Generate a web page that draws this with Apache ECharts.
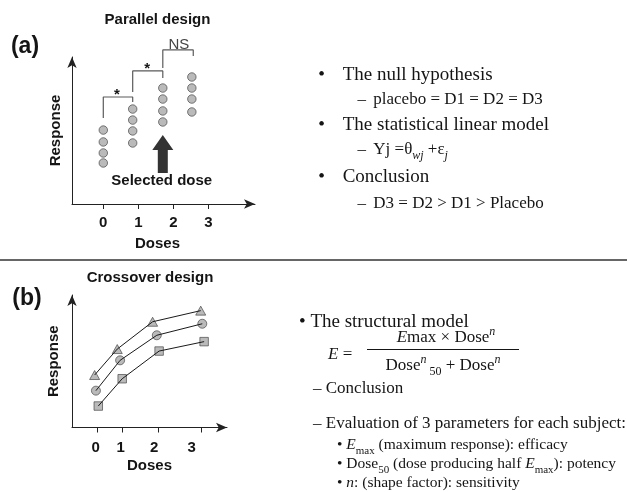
<!DOCTYPE html>
<html><head><meta charset="utf-8">
<script src="https://cdn.jsdelivr.net/npm/echarts@6/dist/echarts.min.js"></script>
<style>html,body{margin:0;padding:0;background:#fff}#c{width:627px;height:492px}</style>
</head><body><div id="c"></div>
<script>
// ---------- Panel (a): parallel design ----------
const doseTicksA = [0, 1, 2, 3];
const groupXA = [0, 0.84, 1.7, 2.53];
const respD0 = [5.03, 4.22, 3.47, 2.79];
const respD1 = [6.46, 5.71, 4.97, 4.15];
const respD2 = [7.89, 7.14, 6.33, 5.58];
const respD3 = [8.64, 7.89, 7.14, 6.26];
const bracket1X = [0, 0, 0.84, 0.84];
const bracket1Y = [5.85, 7.28, 7.28, 6.94];
const bracket2X = [0.84, 0.84, 1.7, 1.7];
const bracket2Y = [7.62, 9.05, 9.05, 8.57];
const bracket3X = [1.7, 1.7, 2.57, 2.57];
const bracket3Y = [9.25, 10.48, 10.48, 10.07];
const sigLabels = ['*', '*', 'NS'];
const sigX = [0.39, 1.25, 2.16];
const sigY = [7.45, 9.22, 10.85];
const selectedX = [1.7];
const selectedY = [3.4];
const selectedLabel = 'Selected dose';
const selectedLabelXY = [1.67, 1.56];

// ---------- Panel (b): crossover design ----------
const doseTicksB = [0, 0.95, 2.33, 4.0];
const doseLabelPosB = [-0.07, 0.89, 2.18, 3.62];
const doseLabelsB = ['0', '1', '2', '3'];
const triX = [-0.11, 0.76, 2.12, 3.97];
const triY = [3.96, 5.92, 7.98, 8.82];
const cirX = [-0.06, 0.87, 2.28, 4.03];
const cirY = [2.78, 5.07, 6.96, 7.83];
const sqX = [0.03, 0.95, 2.37, 4.1];
const sqY = [1.62, 3.68, 5.77, 6.48];

const SANS = '"Liberation Sans", Arial, Helvetica, sans-serif';
const SERIF = '"Liberation Serif", "Times New Roman", serif';
const INK = '#151515';

const zip = (xs, ys) => xs.map((x, i) => [x, ys[i]]);
const markerStyle = { color: '#a9a9a9', borderColor: '#3a3a3a', borderWidth: 0.8 };
const bold15 = { fontFamily: SANS, fontWeight: 'bold', fontSize: 15, color: INK };

function richSet(base) {
  const s = Math.round(base * 0.68);
  const lh = base + 7;
  return {
    n: { fontFamily: SERIF, fontSize: base, lineHeight: lh, fill: INK },
    i: { fontFamily: SERIF, fontSize: base, fontStyle: 'italic', lineHeight: lh, fill: INK },
    sub: { fontFamily: SERIF, fontSize: s, fontStyle: 'italic', verticalAlign: 'bottom', lineHeight: s, fill: INK },
    subn: { fontFamily: SERIF, fontSize: s, verticalAlign: 'bottom', lineHeight: s, fill: INK },
    sup: { fontFamily: SERIF, fontSize: s, fontStyle: 'italic', verticalAlign: 'top', lineHeight: s, fill: INK }
  };
}
function T(x, y, text, size, align) {
  return {
    type: 'text', x: x, y: y, silent: true,
    style: {
      text: text, fontFamily: SERIF, fontSize: size, lineHeight: size + 7, fill: INK,
      align: align || 'left', verticalAlign: 'middle', rich: richSet(size)
    }
  };
}
function S(x, y, text, size, weight, align) {
  return {
    type: 'text', x: x, y: y, silent: true,
    style: { text: text, fontFamily: SANS, fontSize: size, fontWeight: weight || 'bold', fill: INK,
      align: align || 'center', verticalAlign: 'middle' }
  };
}

const textA = [
  ['•', 'The null hypothesis', 75, 19, 321.7, 342.7],
  ['–', 'placebo = D1 = D2 = D3', 100, 17, 361.7, 373.3],
  ['•', 'The statistical linear model', 125, 19, 321.7, 342.7],
  ['–', 'Yj =θ{sub|wj} +ε{sub|j}', 150, 17, 361.7, 373.3],
  ['•', 'Conclusion', 176.7, 19, 321.7, 342.7],
  ['–', 'D3 = D2 > D1 > Placebo', 203.3, 17, 361.7, 373.3]
];

const graphics = [];
textA.forEach(r => {
  graphics.push(T(r[4], r[2], r[0], r[3], 'center'));
  graphics.push(T(r[5], r[2], r[1], r[3], 'left'));
});
graphics.push(T(299, 321.7, '• The structural model', 19));
graphics.push(T(328, 355, '{i|E} =', 17));
graphics.push(T(446, 338, '{i|E}max × Dose{sup|n}', 17, 'center'));
graphics.push({ type: 'line', silent: true, shape: { x1: 367, y1: 349.5, x2: 519, y2: 349.5 }, style: { stroke: INK, lineWidth: 1 } });
graphics.push(T(443, 366, 'Dose{sup|n}{subn| 50} + Dose{sup|n}', 17, 'center'));
graphics.push(T(313, 389, '– Conclusion', 17));
graphics.push(T(313, 424, '– Evaluation of 3 parameters for each subject:', 17));
graphics.push(T(337, 445, '• {i|E}{subn|max} (maximum response): efficacy', 15.5));
graphics.push(T(337, 464, '• Dose{subn|50} (dose producing half {i|E}{subn|max}): potency', 15.5));
graphics.push(T(337, 483, '• {i|n}: (shape factor): sensitivity', 15.5));
graphics.push({ type: 'line', silent: true, shape: { x1: 0, y1: 260, x2: 627, y2: 260 }, style: { stroke: '#333', lineWidth: 1.5 } });
graphics.push(S(157.5, 20, 'Parallel design', 15));
graphics.push(S(150, 277.7, 'Crossover design', 15));
graphics.push(S(25, 46.7, '(a)', 23));
graphics.push(S(27, 298.3, '(b)', 23));

const axisLineBase = { show: true, onZero: false, symbol: ['none', 'arrow'], symbolSize: [7, 11], lineStyle: { color: '#222', width: 1 } };

const option = {
  animation: false,
  backgroundColor: '#fff',
  grid: [
    { left: 72, top: 57, width: 183, height: 147, outerBoundsMode: 'none', containLabel: false },
    { left: 72, top: 295, width: 155, height: 132.5, outerBoundsMode: 'none', containLabel: false }
  ],
  xAxis: [
    {
      gridIndex: 0, type: 'value', min: -0.894, max: 4.334,
      axisLine: axisLineBase,
      axisTick: { show: true, length: 5, customValues: doseTicksA, lineStyle: { color: '#222' } },
      axisLabel: { show: true, customValues: doseTicksA, margin: 11, ...bold15 },
      splitLine: { show: false },
      name: 'Doses', nameLocation: 'middle', nameGap: 32,
      nameTextStyle: { ...bold15, padding: [0, 12, 0, 0] }
    },
    {
      gridIndex: 1, type: 'value', min: -0.98, max: 4.98,
      axisLine: axisLineBase,
      axisTick: { show: true, length: 5, customValues: doseTicksB, lineStyle: { color: '#222' } },
      axisLabel: {
        show: true, customValues: doseLabelPosB, margin: 13, ...bold15,
        formatter: v => {
          let best = 0;
          doseLabelPosB.forEach((p, i) => { if (Math.abs(p - v) < Math.abs(doseLabelPosB[best] - v)) best = i; });
          return doseLabelsB[best];
        }
      },
      splitLine: { show: false },
      name: 'Doses', nameLocation: 'middle', nameGap: 31,
      nameTextStyle: bold15
    }
  ],
  yAxis: [
    {
      gridIndex: 0, type: 'value', min: 0, max: 10,
      axisLine: axisLineBase, axisTick: { show: false }, axisLabel: { show: false }, splitLine: { show: false },
      name: 'Response', nameLocation: 'middle', nameGap: 9, nameRotate: 90, nameTextStyle: bold15
    },
    {
      gridIndex: 1, type: 'value', min: 0, max: 10,
      axisLine: axisLineBase, axisTick: { show: false }, axisLabel: { show: false }, splitLine: { show: false },
      name: 'Response', nameLocation: 'middle', nameGap: 11, nameRotate: 90, nameTextStyle: bold15
    }
  ],
  series: [
    {
      type: 'scatter', xAxisIndex: 0, yAxisIndex: 0, symbol: 'circle', symbolSize: 8.5, itemStyle: markerStyle,
      data: [].concat(
        respD0.map(v => [groupXA[0], v]), respD1.map(v => [groupXA[1], v]),
        respD2.map(v => [groupXA[2], v]), respD3.map(v => [groupXA[3], v]))
    },
    ...[[bracket1X, bracket1Y], [bracket2X, bracket2Y], [bracket3X, bracket3Y]].map(b => ({
      type: 'line', xAxisIndex: 0, yAxisIndex: 0, data: zip(b[0], b[1]), showSymbol: false, symbol: 'none',
      clip: false, lineStyle: { color: '#5a5a5a', width: 1.2 }
    })),
    {
      type: 'scatter', xAxisIndex: 0, yAxisIndex: 0, data: zip(selectedX, selectedY),
      symbol: 'path://M10.5,0 L21,15 L15.5,15 L15.5,38 L5.5,38 L5.5,15 L0,15 Z',
      symbolSize: [21, 38], itemStyle: { color: '#000' }
    },
    // panel (b) markers
    { type: 'scatter', xAxisIndex: 1, yAxisIndex: 1, z: 2, data: zip(triX, triY), symbol: 'triangle', symbolSize: [10, 9], itemStyle: markerStyle },
    { type: 'scatter', xAxisIndex: 1, yAxisIndex: 1, z: 2, data: zip(cirX, cirY), symbol: 'circle', symbolSize: 9, itemStyle: markerStyle },
    { type: 'scatter', xAxisIndex: 1, yAxisIndex: 1, z: 2, data: zip(sqX, sqY), symbol: 'rect', symbolSize: 8.5, itemStyle: markerStyle },
    ...[[triX, triY], [cirX, cirY], [sqX, sqY]].map(s => ({
      type: 'line', xAxisIndex: 1, yAxisIndex: 1, z: 3, data: zip(s[0], s[1]), showSymbol: false, symbol: 'none',
      lineStyle: { color: '#1a1a1a', width: 1 }
    }))
  ],
  graphic: graphics
};

const chart = echarts.init(document.getElementById('c'), null, { renderer: 'canvas' });
chart.setOption(option);

// annotations placed through the axis scales of panel (a)
const ann = [];
sigLabels.forEach((t, i) => {
  const p = chart.convertToPixel({ gridIndex: 0 }, [sigX[i], sigY[i]]);
  ann.push(S(p[0], p[1], t, 15, t === 'NS' ? 'normal' : 'bold'));
  if (t === 'NS') ann[ann.length - 1].style.fill = '#444';
});
const ps = chart.convertToPixel({ gridIndex: 0 }, selectedLabelXY);
ann.push(S(ps[0], ps[1], selectedLabel, 15));
chart.setOption({ graphic: graphics.concat(ann) });
</script>
</body></html>
